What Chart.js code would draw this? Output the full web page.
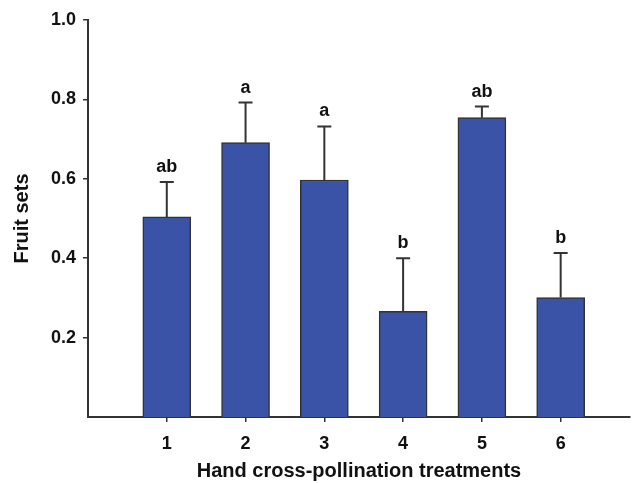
<!DOCTYPE html>
<html>
<head>
<meta charset="utf-8">
<script src="https://cdn.jsdelivr.net/npm/chart.js@4/dist/chart.umd.min.js"></script>
<style>
  body { margin: 0; background: #fff; }
</style>
</head>
<body>
<canvas id="barChart" width="636" height="483"></canvas>
<script>
// values
const treatments = [1, 2, 3, 4, 5, 6]
const fruitSet = [0.504, 0.691, 0.597, 0.266, 0.754, 0.301]
const errorUp = [0.088, 0.101, 0.135, 0.134, 0.028, 0.112]
const letters = ['ab', 'a', 'a', 'b', 'ab', 'b']
const yTicks = [0.2, 0.4, 0.6, 0.8, 1.0]

const font = 'Liberation Sans, Arial, sans-serif'
const ink = '#333'

// error bars + significance letters
const errorBars = {
    id: 'errorBars',
    afterDatasetsDraw(chart) {
        const ctx = chart.ctx
        const xs = chart.scales.x
        const ys = chart.scales.y
        ctx.save()
        ctx.strokeStyle = ink
        ctx.lineWidth = 2
        ctx.fillStyle = '#111'
        ctx.font = 'bold 18px ' + font
        ctx.textAlign = 'center'
        ctx.textBaseline = 'bottom'
        treatments.forEach((t, i) => {
            const x = xs.getPixelForValue(t)
            const y0 = ys.getPixelForValue(fruitSet[i])
            const y1 = ys.getPixelForValue(fruitSet[i] + errorUp[i])
            ctx.beginPath()
            ctx.moveTo(x, y0)
            ctx.lineTo(x, y1)
            ctx.moveTo(x - 7, y1)
            ctx.lineTo(x + 7, y1)
            ctx.stroke()
            ctx.fillText(letters[i], x, y1 - 6)
        })
        ctx.restore()
    }
}

let MyChart = document.getElementById('barChart').getContext('2d')

let fruitChart = new Chart(MyChart, {
    type: 'bar',
    data: {
        datasets: [{
            label: 'Fruit sets',
            data: treatments.map((t, i) => ({ x: t, y: fruitSet[i] })),
            backgroundColor: '#3a53a6',
            borderColor: ink,
            borderWidth: 1.5,
            barThickness: 48
        }]
    },
    options: {
        responsive: false,
        animation: false,
        layout: { padding: { top: 20, right: 6, left: 0, bottom: 0 } },
        plugins: {
            legend: { display: false },
            tooltip: { enabled: false }
        },
        scales: {
            x: {
                type: 'linear',
                min: 0,
                max: 6.88,
                offset: false,
                afterBuildTicks: axis => { axis.ticks = treatments.map(v => ({ value: v })) },
                afterFit: axis => { axis.height = 66 },
                border: { color: ink, width: 2 },
                grid: { offset: false, drawOnChartArea: false, color: ink, lineWidth: 1.5, tickLength: 5 },
                ticks: { color: '#111', font: { family: font, size: 18, weight: 'bold' }, padding: 11 },
                title: {
                    display: true,
                    text: 'Hand cross-pollination treatments',
                    color: '#111',
                    font: { family: font, size: 20, weight: 'bold' },
                    padding: { top: 0, bottom: 0 }
                }
            },
            y: {
                min: 0,
                max: 1.0,
                afterBuildTicks: axis => { axis.ticks = yTicks.map(v => ({ value: v })) },
                afterFit: axis => { axis.width = 88 },
                border: { color: ink, width: 2 },
                grid: { drawOnChartArea: false, color: ink, lineWidth: 1.5, tickLength: 5 },
                ticks: {
                    color: '#111',
                    font: { family: font, size: 18, weight: 'bold' },
                    padding: 7,
                    callback: v => v.toFixed(1)
                },
                title: {
                    display: true,
                    text: 'Fruit sets',
                    color: '#111',
                    font: { family: font, size: 20, weight: 'bold' },
                    padding: { top: 10, bottom: 0 }
                }
            }
        }
    },
    plugins: [errorBars]
})
</script>
</body>
</html>
